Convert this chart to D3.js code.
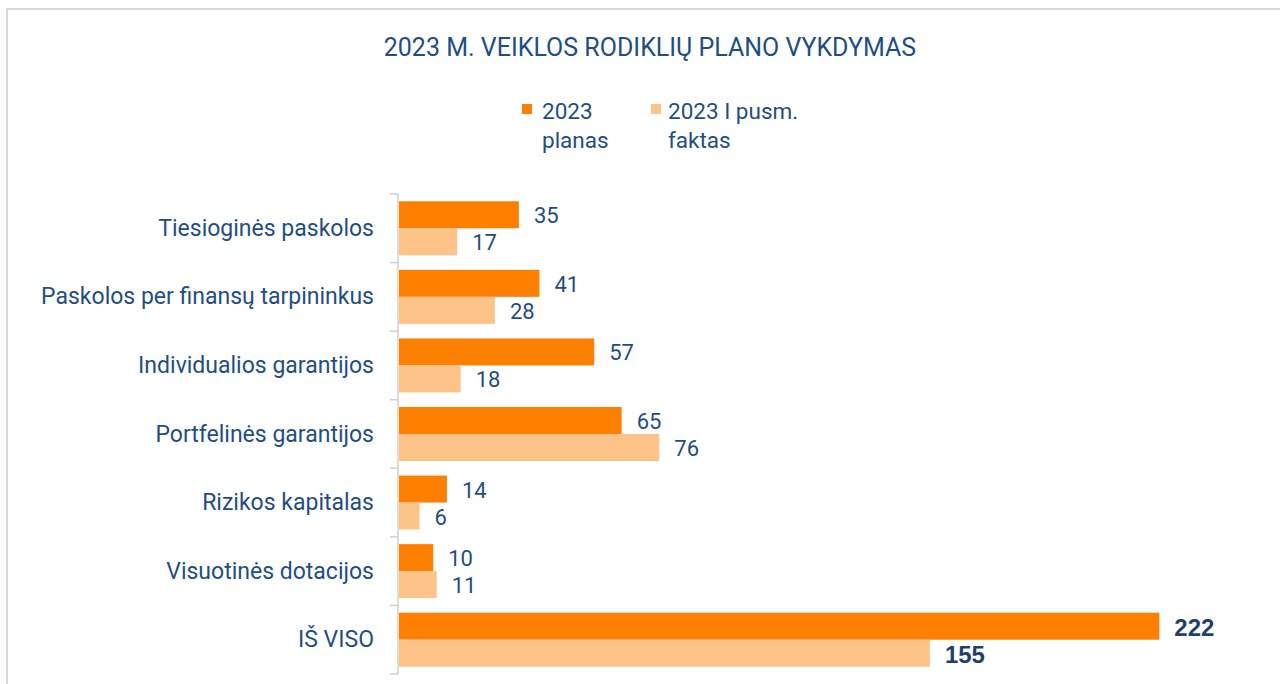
<!DOCTYPE html>
<html>
<head>
<meta charset="utf-8">
<script src="https://cdn.jsdelivr.net/npm/d3@7"></script>
<style>
  html, body { margin: 0; padding: 0; background: #fff; }
  svg { display: block; }
</style>
</head>
<body>
<svg></svg>
<script>
const categories = [
    'Tiesioginės paskolos',
    'Paskolos per finansų tarpininkus',
    'Individualios garantijos',
    'Portfelinės garantijos',
    'Rizikos kapitalas',
    'Visuotinės dotacijos',
    'IŠ VISO'
];
const planValues = [35, 41, 57, 65, 14, 10, 222];
const factValues = [17, 28, 18, 76, 6, 11, 155];
const seriesNames = ['2023 planas', '2023 I pusm. faktas'];
const legendLines = [['2023', 'planas'], ['2023 I pusm.', 'faktas']];

const width = 1280;
const height = 684;
const colors = ['#ff7f00', '#fdc388'];
const textColor = '#1f4e85';
const font = 'Roboto, "Noto Sans", sans-serif';

const svg = d3.select('svg')
    .attr('width', width)
    .attr('height', height)
    .style('font-family', font);

// chart frame
svg.append('rect')
    .attr('x', 7).attr('y', 9)
    .attr('width', 1290).attr('height', 700)
    .attr('fill', 'none')
    .attr('stroke', '#d9d9d9')
    .attr('stroke-width', 2);

svg.append('text')
    .attr('x', 650).attr('y', 56)
    .attr('text-anchor', 'middle')
    .attr('fill', textColor)
    .style('font-size', '25px')
    .text('2023 M. VEIKLOS RODIKLIŲ PLANO VYKDYMAS');

// legend
const legendX = [522, 651];
seriesNames.forEach((name, i) => {
    const g = svg.append('g').attr('transform', 'translate(' + legendX[i] + ',0)');
    g.append('rect')
        .attr('x', 0).attr('y', 104)
        .attr('width', 10).attr('height', 10)
        .attr('fill', colors[i]);
    g.append('text')
        .attr('fill', textColor)
        .style('font-size', '22.5px')
        .selectAll('tspan')
        .data(legendLines[i])
        .enter()
        .append('tspan')
        .attr('x', i === 0 ? 20 : 17)
        .attr('y', (d, j) => 119 + j * 29)
        .text(d => d);
});

const x = d3.scaleLinear().domain([0, 240]).range([398, 398 + 240 * 3.425]);
const y = d3.scaleBand().domain(categories).range([194, 674]).paddingInner(0).paddingOuter(0);
const y1 = d3.scaleBand().domain([0, 1]).range([0, y.bandwidth()]).paddingInner(0).paddingOuter(0.27);

// axis with ticks at category boundaries
const axisColor = '#d0d0d0';
const boundaries = categories.map(c => y(c)).concat([y.range()[1]]);
svg.append('line')
    .attr('x1', 398).attr('x2', 398)
    .attr('y1', 194).attr('y2', 674)
    .attr('stroke', axisColor).attr('stroke-width', 1.5);
svg.selectAll('.tick')
    .data(boundaries)
    .enter()
    .append('line')
    .attr('class', 'tick')
    .attr('x1', 390).attr('x2', 398)
    .attr('y1', d => d).attr('y2', d => d)
    .attr('stroke', axisColor).attr('stroke-width', 1.5);

svg.selectAll('.cat')
    .data(categories)
    .enter()
    .append('text')
    .attr('class', 'cat')
    .attr('x', 374)
    .attr('y', d => y(d) + y.bandwidth() / 2)
    .attr('text-anchor', 'end')
    .attr('dominant-baseline', 'central')
    .attr('fill', textColor)
    .style('font-size', '23px')
    .text(d => d);

const series = [planValues, factValues];
series.forEach((vals, s) => {
    const rows = categories.map((c, i) => ({ cat: c, value: vals[i], total: i === categories.length - 1 }));
    svg.selectAll('.bar' + s)
        .data(rows)
        .enter()
        .append('rect')
        .attr('class', 'bar' + s)
        .attr('x', x(0) + 1)
        .attr('y', d => y(d.cat) + y1(s))
        .attr('width', d => x(d.value) - x(0))
        .attr('height', y1.bandwidth())
        .attr('fill', colors[s]);

    svg.selectAll('.lbl' + s)
        .data(rows)
        .enter()
        .append('text')
        .attr('class', 'lbl' + s)
        .attr('x', d => x(d.value) + 16)
        .attr('y', d => y(d.cat) + y1(s) + y1.bandwidth() / 2 + 1)
        .attr('dominant-baseline', 'central')
        .attr('fill', d => d.total ? '#1f3f6e' : textColor)
        .style('font-family', d => d.total ? '"Liberation Sans", Arial, sans-serif' : font)
        .style('font-weight', d => d.total ? 'bold' : 'normal')
        .style('font-size', d => d.total ? '24px' : '22px')
        .text(d => d.value);
});
</script>
</body>
</html>
